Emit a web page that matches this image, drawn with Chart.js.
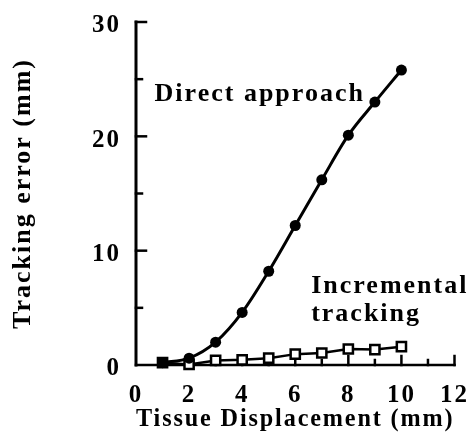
<!DOCTYPE html>
<html>
<head>
<meta charset="utf-8">
<script src="https://cdn.jsdelivr.net/npm/chart.js@4"></script>
<style>
html, body { margin: 0; padding: 0; background: #fff; }
</style>
</head>
<body>
<canvas id="graph" width="475" height="439"></canvas>
<script>
// values
const displacement = [1, 2, 3, 4, 5, 6, 7, 8, 9, 10];
const direct = [0.2, 0.6, 2.0, 4.6, 8.2, 12.2, 16.2, 20.1, 23.0, 25.8];
const incremental = [0.2, 0.05, 0.4, 0.45, 0.6, 0.95, 1.05, 1.4, 1.35, 1.6];

const xTickLabels = [0, 2, 4, 6, 8, 10, 12];
const yTickLabels = [0, 10, 20, 30];

const FONT = '"Liberation Serif", "Times New Roman", serif';

function points(ys) {
  return displacement.map((x, i) => ({x: x, y: ys[i]}));
}

// axes drawn by hand: inward ticks, major and minor
const axesPlugin = {
  id: 'axes',
  beforeDraw(chart) {
    chart.ctx.letterSpacing = '2px';
  },
  beforeDatasetsDraw(chart) {
    const ctx = chart.ctx;
    const xs = chart.scales.x;
    const ys = chart.scales.y;
    const x0 = xs.getPixelForValue(0);
    const y0 = ys.getPixelForValue(0);
    ctx.save();
    ctx.strokeStyle = '#000';
    ctx.lineCap = 'square';
    // y axis
    ctx.lineWidth = 3;
    ctx.beginPath();
    ctx.moveTo(x0, y0);
    ctx.lineTo(x0, ys.getPixelForValue(30));
    ctx.stroke();
    ctx.lineWidth = 2.5;
    for (let v = 5; v <= 30; v += 5) {
      const len = v % 10 === 0 ? 10 : 6;
      const py = ys.getPixelForValue(v);
      ctx.beginPath();
      ctx.moveTo(x0, py);
      ctx.lineTo(x0 + len, py);
      ctx.stroke();
    }
    // x axis
    ctx.lineWidth = 2.5;
    ctx.beginPath();
    ctx.moveTo(x0, y0);
    ctx.lineTo(xs.getPixelForValue(12), y0);
    ctx.stroke();
    for (let v = 1; v <= 12; v++) {
      const len = v % 2 === 0 ? 9 : 5;
      const px = xs.getPixelForValue(v);
      ctx.beginPath();
      ctx.moveTo(px, y0);
      ctx.lineTo(px, y0 - len);
      ctx.stroke();
    }
    ctx.restore();
  },
  afterDraw(chart) {
    const ctx = chart.ctx;
    const xs = chart.scales.x;
    const ys = chart.scales.y;
    ctx.save();
    ctx.letterSpacing = '2px';
    ctx.fillStyle = '#000';
    ctx.font = 'bold 26px ' + FONT;
    ctx.textAlign = 'left';
    ctx.textBaseline = 'alphabetic';
    ctx.fillText('Direct approach', xs.getPixelForValue(0.7), ys.getPixelForValue(23.05));
    ctx.fillText('Incremental', xs.getPixelForValue(6.6), ys.getPixelForValue(6.3));
    ctx.fillText('tracking', xs.getPixelForValue(6.6), ys.getPixelForValue(3.87));
    ctx.restore();
  }
};

const data = {
  datasets: [
    {
      label: 'Direct approach',
      data: points(direct),
      borderColor: '#000',
      backgroundColor: '#000',
      borderWidth: 3,
      pointStyle: 'circle',
      pointRadius: 5.5,
      pointBorderWidth: 0,
      cubicInterpolationMode: 'monotone'
    },
    {
      label: 'Incremental tracking',
      data: points(incremental),
      borderColor: '#000',
      backgroundColor: '#fff',
      borderWidth: 2.5,
      pointStyle: 'rect',
      pointRadius: 6.5,
      pointBorderWidth: 2.5,
      tension: 0
    }
  ]
};

const config = {
  type: 'line',
  data: data,
  plugins: [axesPlugin],
  options: {
    responsive: false,
    animation: false,
    layout: {padding: {top: 16, right: 19, left: 0, bottom: 0}},
    plugins: {legend: {display: false}, tooltip: {enabled: false}},
    elements: {line: {fill: false}},
    datasets: {line: {clip: false}},
    scales: {
      x: {
        type: 'linear',
        min: 0,
        max: 12,
        offset: false,
        afterBuildTicks: (s) => { s.ticks = xTickLabels.map((v) => ({value: v})); },
        afterFit: (s) => { s.height = 74; },
        grid: {display: false},
        border: {display: false},
        ticks: {
          color: '#000',
          padding: 8,
          autoSkip: false,
          maxRotation: 0,
          font: {family: FONT, size: 25, weight: 'bold', lineHeight: 1.2}
        },
        title: {
          display: true,
          text: 'Tissue Displacement (mm)',
          color: '#000',
          padding: {top: 0, bottom: 4},
          font: {family: FONT, size: 26, weight: 'bold', lineHeight: 1.2}
        }
      },
      y: {
        type: 'linear',
        min: 0,
        max: 30,
        afterBuildTicks: (s) => { s.ticks = yTickLabels.map((v) => ({value: v})); },
        afterFit: (s) => { s.width = 136; },
        grid: {display: false},
        border: {display: false},
        ticks: {
          color: '#000',
          padding: 7,
          labelOffset: 4,
          font: {family: FONT, size: 25, weight: 'bold', lineHeight: 1.2}
        },
        title: {
          display: true,
          text: 'Tracking error (mm)',
          color: '#000',
          padding: {top: 8, bottom: 0},
          font: {family: FONT, size: 26, weight: 'bold', lineHeight: 1.2}
        }
      }
    }
  }
};

const ctx = document.getElementById('graph').getContext('2d');
new Chart(ctx, config);
</script>
</body>
</html>
